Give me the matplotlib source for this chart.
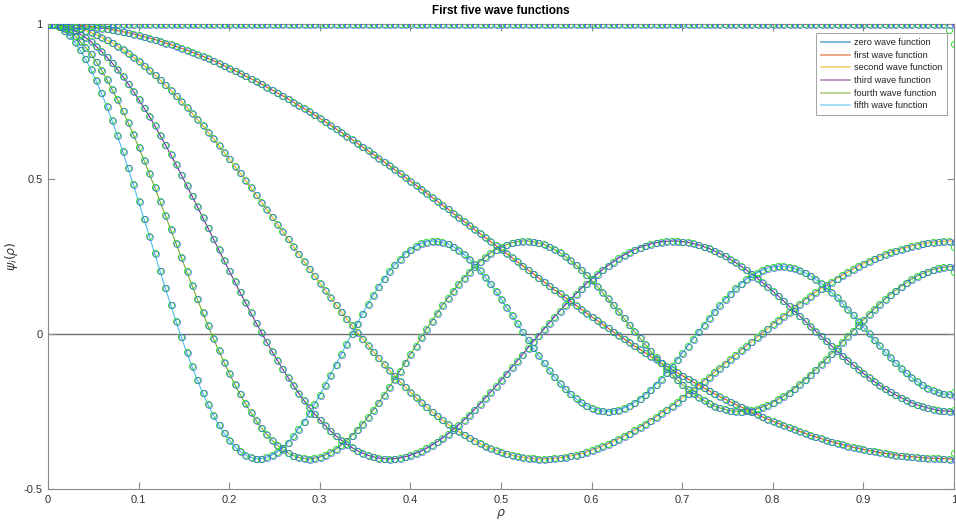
import numpy as np
import matplotlib
matplotlib.use("Agg")
import matplotlib.pyplot as plt
import matplotlib.transforms as mtransforms

plt.rcParams['font.family'] = ['Liberation Sans', 'DejaVu Sans']

# radial grid (171 samples from 0 to 1)
rho = np.linspace(0, 1, 171)

psi0 = [1.0] * 171

psi1 = [1.000, 1.000, 0.999, 0.999, 0.998, 0.997, 0.995, 0.994, 0.992, 0.990,
        0.987, 0.985, 0.982, 0.979, 0.975, 0.972, 0.968, 0.964, 0.959, 0.955,
        0.950, 0.945, 0.939, 0.934, 0.928, 0.922, 0.916, 0.910, 0.903, 0.896,
        0.889, 0.882, 0.874, 0.866, 0.858, 0.850, 0.842, 0.833, 0.824, 0.816,
        0.807, 0.797, 0.788, 0.778, 0.769, 0.759, 0.748, 0.738, 0.728, 0.718,
        0.707, 0.696, 0.685, 0.674, 0.662, 0.651, 0.639, 0.628, 0.616, 0.604,
        0.592, 0.580, 0.568, 0.556, 0.544, 0.531, 0.519, 0.506, 0.493, 0.481,
        0.468, 0.455, 0.442, 0.429, 0.416, 0.404, 0.390, 0.377, 0.364, 0.351,
        0.338, 0.325, 0.312, 0.299, 0.286, 0.273, 0.260, 0.247, 0.234, 0.221,
        0.208, 0.195, 0.182, 0.169, 0.156, 0.143, 0.131, 0.118, 0.106, 0.093,
        0.081, 0.068, 0.056, 0.044, 0.032, 0.020, 0.008, -0.003, -0.015, -0.026,
        -0.038, -0.049, -0.060, -0.071, -0.082, -0.093, -0.103, -0.114, -0.124, -0.134,
        -0.144, -0.154, -0.164, -0.173, -0.183, -0.192, -0.201, -0.210, -0.218, -0.227,
        -0.235, -0.243, -0.251, -0.259, -0.267, -0.274, -0.281, -0.288, -0.295, -0.301,
        -0.308, -0.314, -0.320, -0.326, -0.331, -0.337, -0.342, -0.347, -0.352, -0.356,
        -0.361, -0.365, -0.368, -0.372, -0.376, -0.379, -0.382, -0.385, -0.387, -0.390,
        -0.392, -0.394, -0.396, -0.397, -0.399, -0.400, -0.401, -0.401, -0.402, -0.403,
        -0.403]

psi2 = [1.000, 1.000, 0.998, 0.996, 0.993, 0.989, 0.985, 0.979, 0.973, 0.966,
        0.958, 0.949, 0.940, 0.929, 0.918, 0.906, 0.893, 0.881, 0.866, 0.852,
        0.836, 0.820, 0.804, 0.787, 0.769, 0.751, 0.732, 0.713, 0.693, 0.673,
        0.652, 0.631, 0.609, 0.587, 0.565, 0.542, 0.520, 0.497, 0.473, 0.450,
        0.426, 0.403, 0.379, 0.355, 0.331, 0.307, 0.283, 0.259, 0.235, 0.211,
        0.188, 0.164, 0.141, 0.118, 0.095, 0.072, 0.050, 0.028, 0.006, -0.015,
        -0.036, -0.057, -0.077, -0.097, -0.116, -0.134, -0.153, -0.170, -0.187, -0.204,
        -0.220, -0.235, -0.250, -0.264, -0.277, -0.291, -0.302, -0.314, -0.325, -0.335,
        -0.344, -0.353, -0.361, -0.368, -0.375, -0.381, -0.386, -0.391, -0.394, -0.397,
        -0.400, -0.401, -0.403, -0.403, -0.402, -0.401, -0.399, -0.397, -0.393, -0.390,
        -0.386, -0.381, -0.375, -0.369, -0.362, -0.355, -0.347, -0.339, -0.330, -0.321,
        -0.311, -0.301, -0.290, -0.279, -0.268, -0.256, -0.244, -0.232, -0.219, -0.206,
        -0.193, -0.180, -0.166, -0.152, -0.139, -0.124, -0.110, -0.096, -0.082, -0.068,
        -0.053, -0.039, -0.025, -0.011, 0.003, 0.017, 0.031, 0.045, 0.058, 0.071,
        0.085, 0.097, 0.110, 0.122, 0.134, 0.146, 0.157, 0.168, 0.179, 0.189,
        0.199, 0.209, 0.218, 0.227, 0.235, 0.243, 0.250, 0.257, 0.263, 0.269,
        0.274, 0.279, 0.284, 0.287, 0.291, 0.294, 0.296, 0.298, 0.299, 0.300,
        0.300]

psi3 = [1.000, 0.999, 0.996, 0.992, 0.986, 0.978, 0.968, 0.957, 0.944, 0.928,
        0.912, 0.894, 0.875, 0.854, 0.832, 0.808, 0.783, 0.757, 0.730, 0.702,
        0.673, 0.642, 0.611, 0.580, 0.547, 0.514, 0.480, 0.446, 0.412, 0.377,
        0.343, 0.308, 0.273, 0.238, 0.204, 0.170, 0.136, 0.103, 0.070, 0.037,
        0.006, -0.025, -0.055, -0.084, -0.112, -0.139, -0.165, -0.190, -0.214, -0.236,
        -0.257, -0.277, -0.295, -0.312, -0.328, -0.342, -0.355, -0.366, -0.376, -0.384,
        -0.391, -0.396, -0.400, -0.402, -0.403, -0.402, -0.400, -0.396, -0.391, -0.385,
        -0.378, -0.369, -0.359, -0.348, -0.336, -0.323, -0.309, -0.294, -0.278, -0.261,
        -0.244, -0.226, -0.207, -0.188, -0.169, -0.149, -0.128, -0.108, -0.087, -0.067,
        -0.046, -0.025, -0.005, 0.015, 0.035, 0.055, 0.074, 0.093, 0.111, 0.129,
        0.146, 0.162, 0.178, 0.193, 0.207, 0.220, 0.232, 0.244, 0.254, 0.263,
        0.272, 0.279, 0.285, 0.290, 0.294, 0.297, 0.299, 0.300, 0.300, 0.298,
        0.296, 0.292, 0.288, 0.282, 0.276, 0.269, 0.260, 0.252, 0.241, 0.231,
        0.219, 0.207, 0.195, 0.181, 0.167, 0.153, 0.138, 0.123, 0.107, 0.091,
        0.075, 0.059, 0.043, 0.026, 0.010, -0.006, -0.022, -0.038, -0.054, -0.070,
        -0.085, -0.099, -0.113, -0.127, -0.140, -0.153, -0.165, -0.176, -0.186, -0.196,
        -0.205, -0.213, -0.221, -0.228, -0.233, -0.238, -0.242, -0.246, -0.248, -0.249,
        -0.250]

psi4 = [1.000, 0.998, 0.994, 0.986, 0.976, 0.962, 0.945, 0.926, 0.904, 0.879,
        0.852, 0.822, 0.790, 0.757, 0.721, 0.683, 0.644, 0.603, 0.561, 0.518,
        0.474, 0.429, 0.384, 0.338, 0.293, 0.247, 0.202, 0.158, 0.114, 0.070,
        0.028, -0.013, -0.052, -0.090, -0.126, -0.161, -0.193, -0.224, -0.252, -0.278,
        -0.302, -0.323, -0.342, -0.358, -0.372, -0.383, -0.392, -0.398, -0.401, -0.403,
        -0.401, -0.397, -0.391, -0.382, -0.372, -0.359, -0.344, -0.328, -0.309, -0.290,
        -0.269, -0.246, -0.222, -0.198, -0.172, -0.146, -0.120, -0.093, -0.066, -0.039,
        -0.011, 0.015, 0.041, 0.067, 0.092, 0.115, 0.138, 0.160, 0.181, 0.200,
        0.217, 0.233, 0.248, 0.261, 0.272, 0.281, 0.288, 0.294, 0.298, 0.300,
        0.300, 0.298, 0.294, 0.289, 0.282, 0.273, 0.263, 0.251, 0.238, 0.223,
        0.208, 0.191, 0.173, 0.154, 0.135, 0.115, 0.094, 0.073, 0.052, 0.030,
        0.009, -0.012, -0.033, -0.054, -0.074, -0.093, -0.112, -0.130, -0.147, -0.163,
        -0.178, -0.191, -0.203, -0.214, -0.224, -0.232, -0.238, -0.243, -0.247, -0.249,
        -0.250, -0.248, -0.246, -0.242, -0.236, -0.229, -0.221, -0.211, -0.201, -0.189,
        -0.176, -0.162, -0.147, -0.131, -0.115, -0.098, -0.081, -0.063, -0.045, -0.026,
        -0.008, 0.010, 0.028, 0.046, 0.063, 0.080, 0.096, 0.112, 0.127, 0.140,
        0.153, 0.165, 0.176, 0.186, 0.194, 0.201, 0.208, 0.212, 0.215, 0.217,
        0.218]

psi5 = [1.000, 0.998, 0.991, 0.979, 0.963, 0.942, 0.917, 0.888, 0.855, 0.818,
        0.778, 0.735, 0.689, 0.641, 0.590, 0.537, 0.483, 0.428, 0.372, 0.316,
        0.260, 0.204, 0.149, 0.095, 0.042, -0.009, -0.058, -0.104, -0.148, -0.189,
        -0.227, -0.261, -0.292, -0.319, -0.343, -0.363, -0.378, -0.390, -0.398, -0.402,
        -0.402, -0.398, -0.391, -0.381, -0.367, -0.350, -0.330, -0.307, -0.283, -0.256,
        -0.227, -0.197, -0.165, -0.132, -0.099, -0.066, -0.032, 0.001, 0.033, 0.065,
        0.096, 0.125, 0.152, 0.178, 0.202, 0.223, 0.242, 0.259, 0.272, 0.283,
        0.292, 0.297, 0.300, 0.299, 0.296, 0.291, 0.282, 0.271, 0.258, 0.242,
        0.225, 0.205, 0.184, 0.162, 0.138, 0.113, 0.087, 0.061, 0.035, 0.008,
        -0.018, -0.044, -0.069, -0.093, -0.116, -0.138, -0.158, -0.176, -0.193, -0.208,
        -0.220, -0.231, -0.239, -0.245, -0.248, -0.250, -0.248, -0.245, -0.239, -0.231,
        -0.221, -0.209, -0.196, -0.180, -0.163, -0.145, -0.125, -0.104, -0.083, -0.061,
        -0.039, -0.016, 0.007, 0.029, 0.051, 0.072, 0.092, 0.112, 0.130, 0.147,
        0.162, 0.176, 0.187, 0.197, 0.206, 0.212, 0.216, 0.218, 0.218, 0.216,
        0.212, 0.206, 0.198, 0.188, 0.177, 0.164, 0.150, 0.134, 0.118, 0.100,
        0.081, 0.062, 0.042, 0.022, 0.002, -0.018, -0.037, -0.057, -0.075, -0.093,
        -0.110, -0.125, -0.140, -0.152, -0.164, -0.174, -0.182, -0.188, -0.193, -0.195,
        -0.197]

# numerical (green) solution differs from the exact one only at the outer edge
green_end = [0.935, -0.383, 0.280, -0.245, 0.200, -0.186]
green_zero_prev = 0.982

names = ['zero wave function', 'first wave function', 'second wave function',
         'third wave function', 'fourth wave function', 'fifth wave function']
colors = ['#0072BD', '#D95319', '#EDB120', '#7E2F8E', '#77AC30', '#4DBEEE']
curves = [psi0, psi1, psi2, psi3, psi4, psi5]

fig = plt.figure(figsize=(9.56, 5.2), dpi=100)
ax = fig.add_axes([0.0502, 0.0596, 0.9477, 0.8942])

for c, col, lab in zip(curves, colors, names):
    ax.plot(rho, c, color=col, lw=0.8, label=lab, zorder=2)

ax.axhline(0, color='#6e6e6e', lw=1.0, zorder=1)

shift = mtransforms.ScaledTranslation(1.0 / 100, -0.6 / 100, fig.dpi_scale_trans)
for k, c in enumerate(curves):
    g = list(c)
    g[-1] = green_end[k]
    if k == 0:
        g[-2] = green_zero_prev
    ax.plot(rho, g, 'o', ms=4.4, mfc='none', mec='#33dd33', mew=0.7, zorder=3)
    ax.plot(rho, c, 'o', ms=4.4, mfc='none', mec='#3a55f0', mew=0.6, alpha=0.75,
            transform=ax.transData + shift, zorder=3)

ax.set_xlim(0, 1)
ax.set_ylim(-0.5, 1)
ax.set_xticks(np.arange(0, 1.01, 0.1))
ax.set_xticklabels(['0', '0.1', '0.2', '0.3', '0.4', '0.5', '0.6', '0.7', '0.8', '0.9', '1'])
ax.set_yticks([-0.5, 0, 0.5, 1])
ax.set_yticklabels(['-0.5', '0', '0.5', '1'])
ax.tick_params(direction='in', length=5, width=0.8, colors='#8a8a8a',
               labelcolor='#333333', labelsize=8, top=True, right=True, pad=4)
for s in ax.spines.values():
    s.set_color('#8a8a8a')
    s.set_linewidth(0.8)

ax.set_title('First five wave functions', fontsize=8.5, fontweight='bold', pad=7)
ax.set_xlabel(r'$\rho$', fontsize=9, color='#333333', labelpad=2)
ax.set_ylabel(r'$\psi_i(\rho)$', fontsize=9, color='#333333')
ax.yaxis.set_label_coords(-0.031, 0.5)

leg = ax.legend(loc='upper right', bbox_to_anchor=(0.9923, 0.9806), borderaxespad=0,
                fontsize=6.6, frameon=True, fancybox=False, edgecolor='#8a8a8a',
                handlelength=3.2, labelspacing=0.4, borderpad=0.55,
                handletextpad=0.4)
leg.get_frame().set_linewidth(0.7)
for t in leg.get_texts():
    t.set_color('#222222')
for h in leg.get_lines():
    h.set_alpha(0.6)
    h.set_linewidth(1.2)

fig.savefig('out.png', dpi=100)
